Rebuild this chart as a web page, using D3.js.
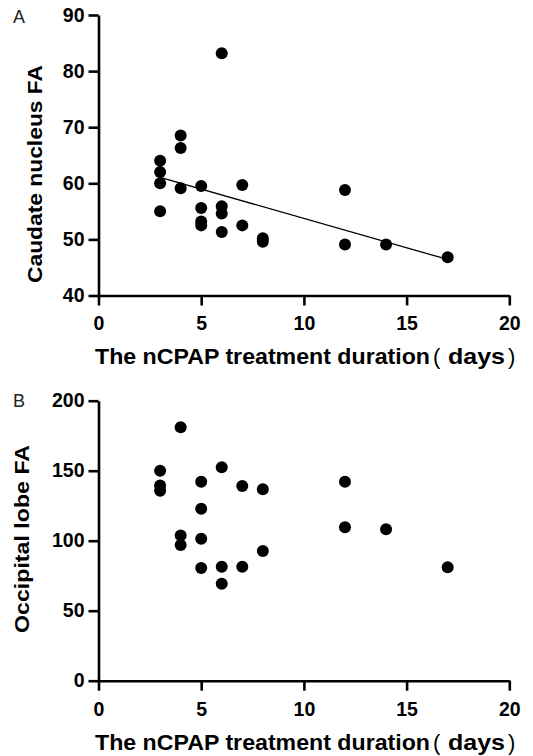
<!DOCTYPE html>
<html>
<head>
<meta charset="utf-8">
<script src="https://cdn.jsdelivr.net/npm/d3@7"></script>
<style>
  body { margin: 0; background: #fff; }
  svg text { font-family: "Liberation Sans", Arial, sans-serif; }
</style>
</head>
<body>
<svg id="chart" width="533" height="756"></svg>
<script>
// panel A: caudate nucleus FA vs nCPAP days
const daysA = [3, 3, 3, 3, 4, 4, 4, 5, 5, 5, 5, 6, 6, 6, 6, 7, 7, 8, 8, 12, 12, 14, 17];
const caudateFA = [64.0, 62.0, 60.0, 55.0, 68.5, 66.3, 59.1, 59.5, 55.6, 53.2, 52.5,
                   83.2, 55.9, 54.6, 51.3, 59.7, 52.5, 50.2, 49.6, 58.8, 49.1, 49.1, 46.8];

// panel B: occipital lobe FA vs nCPAP days
const daysB = [3, 3, 3, 4, 4, 4, 5, 5, 5, 5, 6, 6, 6, 7, 7, 8, 8, 12, 12, 14, 17];
const occipitalFA = [150, 139.5, 135.6, 181, 103.8, 97, 142.1, 122.9, 101.4, 80.5,
                     152.5, 81.4, 69.3, 139, 81.4, 136.7, 92.6, 142.1, 109.6, 108.1, 81];

const xTicks = [0, 5, 10, 15, 20];
const yTicksA = [40, 50, 60, 70, 80, 90];
const yTicksB = [0, 50, 100, 150, 200];

const svg = d3.select("#chart");

function boldText(g, x, y, str, len) {
  return g.append("text")
    .attr("x", x)
    .attr("y", y)
    .attr("font-size", 21.5)
    .attr("font-weight", "bold")
    .attr("fill", "#000")
    .attr("textLength", len)
    .attr("lengthAdjust", "spacingAndGlyphs")
    .text(str);
}

function drawPanel(cfg) {
  const g = svg.append("g");

  const x = d3.scaleLinear().domain([0, 20]).range([98.5, 509.3]);
  const y = d3.scaleLinear().domain(cfg.yDomain).range(cfg.yRange);

  const xAxis = g.append("g")
    .attr("transform", `translate(0,${cfg.yRange[0]})`)
    .call(d3.axisBottom(x).tickValues(xTicks).tickSize(10).tickSizeOuter(0).tickPadding(11));

  const yAxis = g.append("g")
    .attr("transform", `translate(${x(0)},0)`)
    .call(d3.axisLeft(y).tickValues(cfg.yTicks).tickSize(10).tickSizeOuter(0).tickPadding(4));

  [xAxis, yAxis].forEach(a => {
    a.select(".domain").attr("stroke", "#000").attr("stroke-width", 2.6);
    a.selectAll(".tick line").attr("stroke", "#000").attr("stroke-width", 2.6);
    a.selectAll(".tick text")
      .attr("fill", "#000")
      .attr("font-size", 19.5)
      .attr("font-weight", "bold")
      .style("font-family", '"Liberation Sans", Arial, sans-serif');
  });

  // least squares fit line
  if (cfg.fit) {
    const mx = d3.mean(cfg.xs), my = d3.mean(cfg.ys);
    const sxy = d3.sum(cfg.xs, (v, i) => (v - mx) * (cfg.ys[i] - my));
    const sxx = d3.sum(cfg.xs, v => (v - mx) * (v - mx));
    const slope = sxy / sxx, icpt = my - slope * mx;
    const ext = d3.extent(cfg.xs);
    g.append("line")
      .attr("x1", x(ext[0])).attr("y1", y(icpt + slope * ext[0]))
      .attr("x2", x(ext[1])).attr("y2", y(icpt + slope * ext[1]))
      .attr("stroke", "#000")
      .attr("stroke-width", 1.3);
  }

  g.selectAll("circle.pt")
    .data(cfg.xs.map((v, i) => [v, cfg.ys[i]]))
    .join("circle")
    .attr("class", "pt")
    .attr("cx", d => x(d[0]))
    .attr("cy", d => y(d[1]))
    .attr("r", 6)
    .attr("fill", "#000");

  // x title: main words, then thin brackets round "days"
  const E = 430; // right end of "duration"
  boldText(g, 95, cfg.xTitleY, "The nCPAP treatment duration", E - 95);
  g.append("text")
    .attr("x", E + 3).attr("y", cfg.xTitleY)
    .attr("font-size", 22).attr("fill", "#000")
    .text("(");
  boldText(g, E + 18, cfg.xTitleY, "days", 57);
  g.append("text")
    .attr("x", E + 78).attr("y", cfg.xTitleY)
    .attr("font-size", 22).attr("fill", "#000")
    .text(")");

  g.append("text")
    .attr("transform", `translate(${cfg.yTitleX},${cfg.yTitleY}) rotate(-90)`)
    .attr("text-anchor", "middle")
    .attr("font-size", 21)
    .attr("font-weight", "bold")
    .attr("fill", "#000")
    .attr("textLength", cfg.yTitleLen)
    .attr("lengthAdjust", "spacingAndGlyphs")
    .text(cfg.yTitle);

  g.append("text")
    .attr("x", 13)
    .attr("y", cfg.letterY)
    .attr("font-size", 18)
    .attr("fill", "#222")
    .text(cfg.letter);
}

drawPanel({
  xs: daysA, ys: caudateFA,
  yDomain: [40, 90], yRange: [295.5, 15], yTicks: yTicksA,
  yTitle: "Caudate nucleus FA", yTitleX: 42, yTitleY: 174, yTitleLen: 218,
  xTitleY: 364, letter: "A", letterY: 23, fit: true
});

drawPanel({
  xs: daysB, ys: occipitalFA,
  yDomain: [0, 200], yRange: [680.7, 400.7], yTicks: yTicksB,
  yTitle: "Occipital lobe FA", yTitleX: 29, yTitleY: 539, yTitleLen: 188,
  xTitleY: 750, letter: "B", letterY: 407, fit: false
});
</script>
</body>
</html>
